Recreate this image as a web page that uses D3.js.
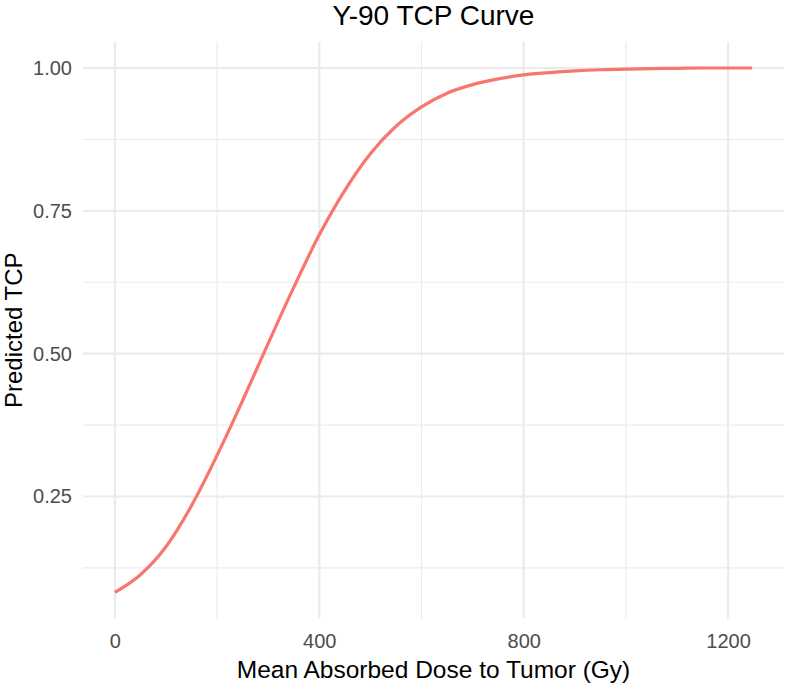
<!DOCTYPE html>
<html>
<head>
<meta charset="utf-8">
<script src="https://cdn.jsdelivr.net/npm/d3@7"></script>
<style>
  html, body { margin: 0; padding: 0; background: #ffffff; }
  svg { display: block; font-family: "Liberation Sans", Arial, Helvetica, sans-serif; }
</style>
</head>
<body>
<svg id="chart" width="787" height="684"></svg>
<script>
// ---- data ----
const dose = [0, 50, 100, 150, 200, 250, 300, 350, 400, 450, 500, 550, 600,
              650, 700, 750, 800, 850, 900, 950, 1000, 1050, 1100, 1150, 1200, 1247];
const tcp  = [0.082, 0.113, 0.162, 0.234, 0.322, 0.418, 0.518, 0.616, 0.708, 0.786, 0.850, 0.898, 0.932,
              0.956, 0.971, 0.981, 0.988, 0.992, 0.995, 0.997, 0.998, 0.999, 0.9995, 1.000, 1.000, 1.000];
const xTicks = [0, 400, 800, 1200];
const xMinor = [200, 600, 1000];
const yTicks = [0.25, 0.50, 0.75, 1.00];
const yTickLabels = ["0.25", "0.50", "0.75", "1.00"];
const yMinor = [0.125, 0.375, 0.625, 0.875];
const titleText = "Y-90 TCP Curve";
const xTitle = "Mean Absorbed Dose to Tumor (Gy)";
const yTitle = "Predicted TCP";

// ---- layout ----
const svg = d3.select("#chart");
const panel = { left: 83, right: 784, top: 41.8, bottom: 618.7 };

function expand(ext, f) {
  const d = ext[1] - ext[0];
  return [ext[0] - d * f, ext[1] + d * f];
}
const x = d3.scaleLinear().domain(expand(d3.extent(dose), 0.05)).range([panel.left, panel.right]);
const y = d3.scaleLinear().domain(expand(d3.extent(tcp), 0.05)).range([panel.bottom, panel.top]);

const grid = svg.append("g");
// minor gridlines
grid.selectAll("line.xmin").data(xMinor).join("line")
  .attr("x1", d => x(d)).attr("x2", d => x(d))
  .attr("y1", panel.top).attr("y2", panel.bottom)
  .attr("stroke", "#EBEBEB").attr("stroke-width", 1.1);
grid.selectAll("line.ymin").data(yMinor).join("line")
  .attr("y1", d => y(d)).attr("y2", d => y(d))
  .attr("x1", panel.left).attr("x2", panel.right)
  .attr("stroke", "#EBEBEB").attr("stroke-width", 1.1);
// major gridlines
grid.selectAll("line.xmaj").data(xTicks).join("line")
  .attr("x1", d => x(d)).attr("x2", d => x(d))
  .attr("y1", panel.top).attr("y2", panel.bottom)
  .attr("stroke", "#EBEBEB").attr("stroke-width", 2.2);
grid.selectAll("line.ymaj").data(yTicks).join("line")
  .attr("y1", d => y(d)).attr("y2", d => y(d))
  .attr("x1", panel.left).attr("x2", panel.right)
  .attr("stroke", "#EBEBEB").attr("stroke-width", 2.2);

// ---- line ----
const pts = dose.map((d, i) => [d, tcp[i]]);
svg.append("path")
  .datum(pts)
  .attr("fill", "none")
  .attr("stroke", "#F8766D")
  .attr("stroke-width", 3.2)
  .attr("stroke-linejoin", "round")
  .attr("stroke-linecap", "butt")
  .attr("d", d3.line().x(d => x(d[0])).y(d => y(d[1])).curve(d3.curveMonotoneX));

// ---- axes ----
const xAxis = d3.axisBottom(x).tickValues(xTicks).tickSize(0).tickPadding(15)
  .tickFormat(d3.format("d"));
const gx = svg.append("g").attr("transform", `translate(0,${panel.bottom})`).call(xAxis);
gx.select(".domain").remove();
gx.selectAll("text").attr("font-size", 20).attr("fill", "#4D4D4D")
  .attr("font-family", "'Liberation Sans', Arial, sans-serif");

const yAxis = d3.axisLeft(y).tickValues(yTicks).tickSize(0).tickPadding(11)
  .tickFormat((d, i) => yTickLabels[i]);
const gy = svg.append("g").attr("transform", `translate(${panel.left},0)`).call(yAxis);
gy.select(".domain").remove();
gy.selectAll("text").attr("font-size", 20).attr("fill", "#4D4D4D")
  .attr("font-family", "'Liberation Sans', Arial, sans-serif");

// ---- titles ----
const cx = (panel.left + panel.right) / 2;
const cy = (panel.top + panel.bottom) / 2;
svg.append("text").attr("x", cx).attr("y", 25).attr("text-anchor", "middle")
  .attr("font-size", 28).attr("fill", "#000").text(titleText);
svg.append("text").attr("x", cx).attr("y", 678).attr("text-anchor", "middle")
  .attr("font-size", 24.5).attr("fill", "#000").text(xTitle);
svg.append("text").attr("transform", `translate(21.5,${cy}) rotate(-90)`)
  .attr("text-anchor", "middle")
  .attr("font-size", 24).attr("fill", "#000").text(yTitle);
</script>
</body>
</html>
